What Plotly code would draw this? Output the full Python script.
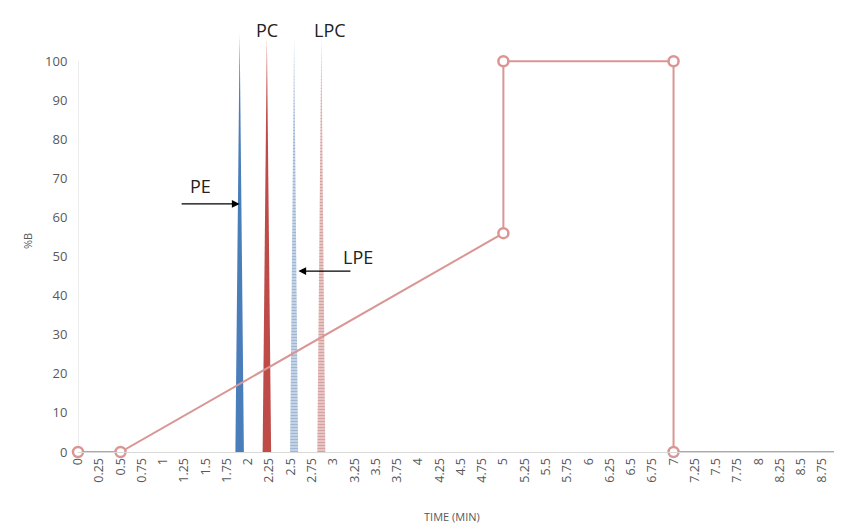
import plotly.graph_objects as go

# Gradient program (%B vs time)
grad_time = [0, 0.5, 5, 5, 7, 7, 9]
grad_pct = [0, 0, 56, 100, 100, 0, 0]

# Peaks
peak_names = ["PE", "PC", "LPE", "LPC"]
peak_rt = [1.90, 2.22, 2.54, 2.86]
peak_height = [107, 106, 106, 106]
peak_width = [0.1, 0.1, 0.095, 0.095]
peak_colors = ["#4a7ebb", "#be4b48", "#3f6fa8", "#b04340"]
peak_hatched = [False, False, True, True]

x_tickvals = [i * 0.25 for i in range(37)]
x_ticktext = [f"{v:g}" for v in x_tickvals]
y_tickvals = list(range(0, 101, 10))

fig = go.Figure()

for name, rt, h, w, c, hatch in zip(peak_names, peak_rt, peak_height, peak_width, peak_colors, peak_hatched):
    xs = [rt - w / 2, rt, rt + w / 2, rt - w / 2]
    ys = [0, h, 0, 0]
    tr = dict(x=xs, y=ys, mode="lines", line=dict(width=0, color=c), fill="toself",
              showlegend=False, hoverinfo="skip", name=name)
    if hatch:
        tr["fillcolor"] = "rgba(255,255,255,0)"
        tr["fillpattern"] = dict(shape="-", fgcolor=c, bgcolor="rgba(255,255,255,0)", size=3, solidity=0.75)
    else:
        tr["fillcolor"] = c
    fig.add_trace(go.Scatter(**tr))

fig.add_trace(go.Scatter(
    x=grad_time, y=grad_pct, mode="lines+markers",
    line=dict(color="#d99694", width=2),
    marker=dict(symbol="circle", size=10, color="white", line=dict(color="#d99694", width=2.5)),
    cliponaxis=False, showlegend=False, hoverinfo="skip"))

# y-axis line only up to 100
fig.add_shape(type="line", x0=0, x1=0, y0=0, y1=100, xref="x", yref="y",
              line=dict(color="#d9d9d9", width=1), layer="below")

ann_font = dict(family="Open Sans, Lato, sans-serif", size=18, color="#222222")
fig.add_annotation(x=1.434, y=68, text="PE", showarrow=False, font=ann_font)
fig.add_annotation(x=3.29, y=50, text="LPE", showarrow=False, font=ann_font)
fig.add_annotation(x=2.22, y=1.0, yref="paper", yanchor="middle", text="PC", showarrow=False, font=ann_font)
fig.add_annotation(x=2.96, y=1.0, yref="paper", yanchor="middle", text="LPC", showarrow=False, font=ann_font)
fig.add_annotation(x=1.90, y=63.5, ax=1.20, ay=63.5, axref="x", ayref="y", text="",
                   showarrow=True, arrowhead=2, arrowsize=1.2, arrowwidth=1.3, arrowcolor="black")
fig.add_annotation(x=2.59, y=46.3, ax=3.22, ay=46.3, axref="x", ayref="y", text="",
                   showarrow=True, arrowhead=2, arrowsize=1.2, arrowwidth=1.3, arrowcolor="black")

fig.add_annotation(x=0.49, xref="paper", y=-0.154, yref="paper", yanchor="middle", text="TIME (MIN)",
                   showarrow=False, font=dict(family="Open Sans, Lato, sans-serif", size=11, color="#595959"))

fig.update_layout(
    width=842, height=525,
    margin=dict(l=70, r=8, t=22, b=81, autoexpand=False),
    plot_bgcolor="white", paper_bgcolor="white",
    font=dict(family="Open Sans, Lato, sans-serif", color="#595959"),
    xaxis=dict(range=[0, 8.98], tickvals=x_tickvals, ticktext=x_ticktext, tickangle=-90,
               showgrid=False, zeroline=False, showline=True, linecolor="#d9d9d9", linewidth=1,
               ticks="", tickfont=dict(size=12.5, color="#595959"), automargin=False),
    yaxis=dict(range=[0, 108], tickvals=y_tickvals, showgrid=False, zeroline=False, showline=False,
               ticks="outside", ticklen=7, tickcolor="rgba(0,0,0,0)",
               tickfont=dict(size=13, color="#595959"), automargin=False,
               title=dict(text="%B", font=dict(size=11, color="#595959"), standoff=10)),
)

fig.write_html("out.html")
